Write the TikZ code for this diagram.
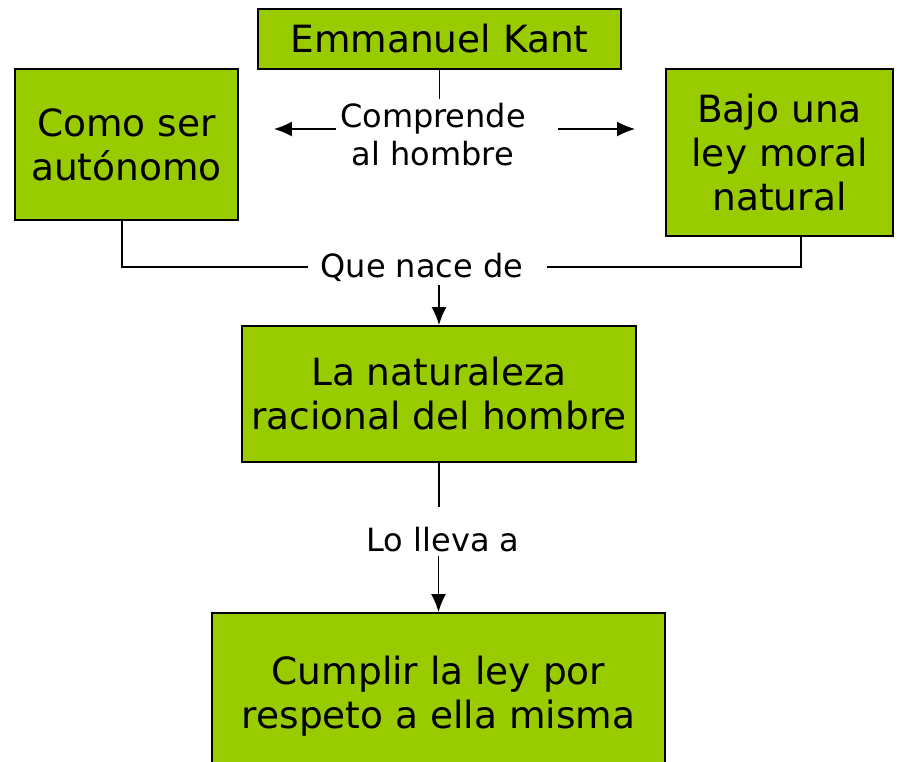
\documentclass[tikz,border=0pt]{standalone}
\usepackage{fontspec}
\setmainfont{DejaVu Sans}
\usetikzlibrary{arrows.meta}
\definecolor{kantgreen}{HTML}{99CC00}
\tikzset{
    concept/.style={draw, line width=1.8pt, fill=kantgreen, align=center, font=\fontsize{37.5}{44}\selectfont, inner sep=0pt},
    linkword/.style={align=center, font=\fontsize{32}{38}\selectfont, inner sep=4pt},
    link/.style={line width=1.8pt},
    tip/.style={-{Latex[length=18pt, width=15pt]}}
}
\begin{document}
\begin{tikzpicture}[x=1pt, y=-1pt]
\useasboundingbox (0,0) rectangle (907,762); % frame
\node[concept, minimum width=363pt, minimum height=60pt] (kant) at (439.5,39) {Emmanuel Kant}; % top
\node[concept, minimum width=223pt, minimum height=151pt] (como) at (126.5,144.5) {Como ser\\aut\'onomo}; % left
\node[concept, minimum width=227pt, minimum height=167pt] (bajo) at (779.5,152.5) {Bajo una\\ley moral\\natural}; % right
\node[linkword] (comp) at (433,135) {Comprende\\al hombre}; % link word
\node[linkword, inner xsep=0pt] (que) at (422,267) {Que nace de}; % link word
\node[concept, minimum width=394pt, minimum height=136pt] (natur) at (439,394) {La naturaleza\\racional del hombre}; % middle
\node[linkword] (lleva) at (443,540) {Lo lleva a}; % link word
\coordinate (lleva top) at ([yshift=33pt]lleva.center); % line end above
\coordinate (lleva bottom) at ([yshift=-16pt]lleva.center); % arrow start below
\node[concept, minimum width=453pt, minimum height=166pt] (cumplir) at (438.5,696) {Cumplir la ley por\\respeto a ella misma}; % bottom
\draw[link] (kant.south) -- (kant.south |- comp.north); % kant to link
\draw[link, tip, shorten >=35pt] ([yshift=6pt]comp.west) -- ([yshift=6pt]comp.west -| como.east); % left arrow
\draw[link, tip, shorten >=30pt] ([yshift=6pt,xshift=28pt]comp.east) -- ([yshift=6pt]comp.east -| bajo.west); % right arrow
\draw[link] ([xshift=-4.5pt]como.south) |- ([xshift=-12pt]que.west); % left join
\draw[link] ([xshift=21.5pt]bajo.south) |- ([xshift=23pt]que.east); % right join
\draw[link, tip] (natur.north |- que.south) -- (natur.north); % down to middle
\draw[link] (natur.south) -- (natur.south |- lleva top); % middle to link
\draw[link, tip] (cumplir.north |- lleva bottom) -- (cumplir.north); % down to bottom
\end{tikzpicture}
\end{document}
